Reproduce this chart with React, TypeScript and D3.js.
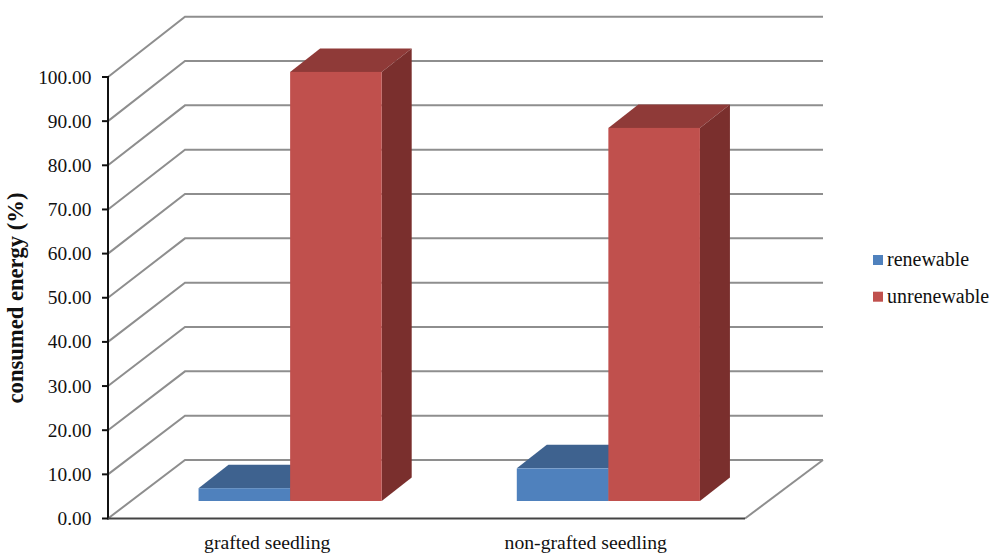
import React from "react";
import * as d3 from "d3";

const categories = ["grafted seedling", "non-grafted seedling"];
const seriesNames = ["renewable", "unrenewable"];
const renewable = [2.9, 7.4];
const unrenewable = [97.3, 84.6];
const yTicks = [0, 10, 20, 30, 40, 50, 60, 70, 80, 90, 100];

const faceColors = [
  { front: "#4f81bd", top: "#3e628f", side: "#345479" },
  { front: "#c0504d", top: "#8f3a38", side: "#7a2f2d" },
];

const serif = "'Liberation Serif', 'Times New Roman', serif";

const yFront = d3.scaleLinear().domain([0, 100]).range([518.5, 77]);
const yBack = d3.scaleLinear().domain([0, 100]).range([460, 16.7]);
const yBar = d3.scaleLinear().domain([0, 100]).range([501, 60]);

const floorX = d3.scaleBand<string>().domain(categories).range([108, 745]).paddingInner(0.4245).paddingOuter(0.2123);
const barGroupX = d3.scaleBand<string>().domain(categories).range([131, 767.5]).paddingInner(0.4245).paddingOuter(0.2123);
const barSeriesX = d3.scaleBand<string>().domain(seriesNames).range([0, barGroupX.bandwidth()]);

const depthX = 30;
const depthY = 23.5;
const wallX = 77;
const wallRight = 823;

function poly(points: [number, number][]) {
  return d3.line()(points) + "Z";
}

function Bar({ x, w, top, bottom, colors }: { x: number; w: number; top: number; bottom: number; colors: (typeof faceColors)[number] }) {
  return (
    <g>
      <path d={poly([[x, top], [x + depthX, top - depthY], [x + w + depthX, top - depthY], [x + w, top]])} fill={colors.top} />
      <path d={poly([[x + w, top], [x + w + depthX, top - depthY], [x + w + depthX, bottom - depthY], [x + w, bottom]])} fill={colors.side} />
      <rect x={x} y={top} width={w} height={bottom - top} fill={colors.front} />
    </g>
  );
}

export default function App() {
  const values = [renewable, unrenewable];
  return (
    <svg width={990} height={554} viewBox="0 0 990 554" style={{ position: "absolute", left: 0, top: 0, display: "block", background: "#fff" }}>
      {/* back wall and side wall gridlines */}
      <g fill="none" stroke="#8e8e8e" strokeWidth={2}>
        {yTicks.map((t) => (
          <path key={t} d={d3.line()([[108, yFront(t)], [108 + wallX, yBack(t)], [wallRight, yBack(t)]]) ?? ""} />
        ))}
        <path d={d3.line()([[wallRight, yBack(0)], [745, yFront(0)]]) ?? ""} />
      </g>

      {/* bars, renewable first so the taller block sits in front of it */}
      {categories.map((c, i) =>
        seriesNames.map((s, j) => (
          <Bar
            key={c + s}
            x={(barGroupX(c) ?? 0) + (barSeriesX(s) ?? 0)}
            w={barSeriesX.bandwidth()}
            top={yBar(values[j][i])}
            bottom={yBar(0)}
            colors={faceColors[j]}
          />
        ))
      )}

      {/* value axis */}
      <line x1={108} x2={108} y1={yFront(100) - 1} y2={yFront(0) + 1} stroke="#111" strokeWidth={2} />
      <line x1={108} x2={745} y1={yFront(0)} y2={yFront(0)} stroke="#444" strokeWidth={2} />
      {yTicks.map((t) => (
        <g key={t}>
          <line x1={102} x2={108} y1={yFront(t)} y2={yFront(t)} stroke="#111" strokeWidth={2} />
          <text x={91.5} y={yFront(t) + 6.5} textAnchor="end" fontFamily={serif} fontSize={19.4} fill="#111">
            {d3.format(".2f")(t)}
          </text>
        </g>
      ))}

      <text
        transform="translate(23,298) rotate(-90)"
        textAnchor="middle"
        fontFamily={serif}
        fontSize={22.6}
        fontWeight="bold"
        fill="#111"
      >
        consumed energy (%)
      </text>

      {categories.map((c) => (
        <text key={c} x={(floorX(c) ?? 0) + floorX.bandwidth() / 2} y={549} textAnchor="middle" fontFamily={serif} fontSize={19.7} fill="#111">
          {c}
        </text>
      ))}

      {/* legend */}
      {seriesNames.map((s, j) => (
        <g key={s}>
          <rect x={873} y={255 + j * 36.7} width={10} height={10} fill={faceColors[j].front} />
          <text x={887} y={265.5 + j * 37.5} fontFamily={serif} fontSize={20} fill="#111">
            {s}
          </text>
        </g>
      ))}
    </svg>
  );
}
